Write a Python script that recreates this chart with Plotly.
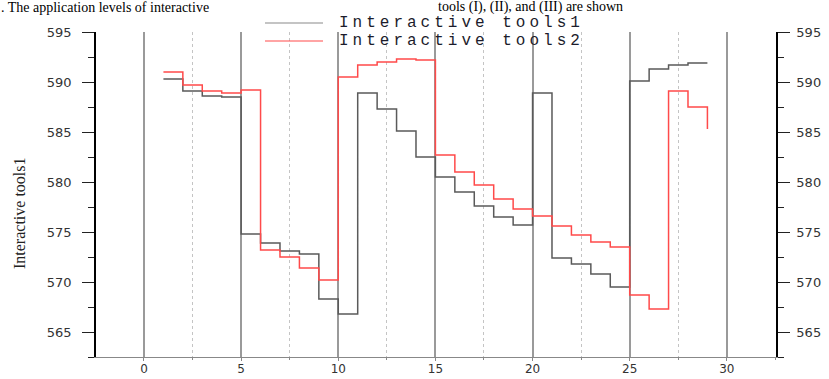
import plotly.graph_objects as go

# ---- data ----
steps_x = list(range(1, 30))
tools1 = [590.3, 589.1, 588.6, 588.5, 574.8, 573.9, 573.1, 572.8, 568.3, 566.8,
          588.9, 587.3, 585.1, 582.5, 580.5, 579.0, 577.6, 576.5, 575.7, 588.9,
          572.4, 571.8, 570.8, 569.5, 590.1, 591.3, 591.7, 591.9, 591.9]
tools2 = [591.0, 589.7, 589.1, 588.9, 589.2, 573.2, 572.5, 571.4, 570.2, 590.5,
          591.7, 592.0, 592.3, 592.2, 582.7, 581.0, 579.7, 578.3, 577.3, 576.6,
          575.6, 574.7, 574.0, 573.5, 568.7, 567.3, 589.1, 587.5, 585.3]
series_names = ["Interactive tools1", "Interactive tools2"]
x_ticks = [0, 5, 10, 15, 20, 25, 30]
y_ticks = [565, 570, 575, 580, 585, 590, 595]

W, H = 829, 379
L, R, T, B = 96, 776, 32, 357


def px_x(p):
    return (p - L) / (R - L)


def px_y(p):
    return (B - p) / (B - T)


fig = go.Figure()
fig.add_trace(go.Scatter(x=steps_x, y=tools1, mode="lines", line_shape="hv",
                         line=dict(color="#5a5a5a", width=1.5), name=series_names[0],
                         showlegend=False))
fig.add_trace(go.Scatter(x=steps_x, y=tools2, mode="lines", line_shape="hv",
                         line=dict(color="#ff4a4a", width=1.5), name=series_names[1],
                         showlegend=False))

tickfont = dict(family="DejaVu Sans", size=13, color="#333333")

fig.update_layout(
    width=W, height=H,
    margin=dict(l=L, r=W - R, t=T, b=H - B, pad=0, autoexpand=False),
    paper_bgcolor="white", plot_bgcolor="white",
    xaxis=dict(range=[-2.47, 32.53], tickvals=x_ticks, showgrid=True,
               gridcolor="#9a9a9a", gridwidth=1.5, zeroline=False, automargin=False,
               showline=True, linecolor="#888888", linewidth=1.2,
               ticks="outside", ticklen=3, tickcolor="#888888",
               tickfont=dict(family="DejaVu Sans", size=12, color="#333333"),
               ticklabelstandoff=-3,
               minor=dict(tick0=0, dtick=2.5, showgrid=True, gridcolor="#c4c4c4",
                          griddash="dot", gridwidth=1, ticks="outside", ticklen=2,
                          tickcolor="#888888")),
    yaxis=dict(range=[562.5, 595], tickvals=y_ticks, showgrid=False, zeroline=False,
               automargin=False,
               showline=True, linecolor="black", linewidth=1.5,
               ticks="outside", ticklen=12, tickwidth=1, tickcolor="#222222",
               tickfont=tickfont, ticklabelstandoff=8,
               minor=dict(tick0=562.5, dtick=2.5, ticks="outside", ticklen=6,
                          tickcolor="#222222")),
    yaxis2=dict(range=[562.5, 595], tickvals=y_ticks, overlaying="y", side="right",
                showgrid=False, zeroline=False, automargin=False,
                showline=True, linecolor="black", linewidth=1.5,
                ticks="outside", ticklen=12, tickwidth=1, tickcolor="#222222",
                tickfont=tickfont, ticklabelstandoff=4,
                minor=dict(tick0=562.5, dtick=2.5, ticks="outside", ticklen=6,
                           tickcolor="#222222")),
)
# invisible trace so the right axis is rendered
fig.add_trace(go.Scatter(x=[steps_x[0]], y=[tools1[0]], yaxis="y2", mode="lines",
                         line=dict(width=0), hoverinfo="skip", showlegend=False))

# manual legend (transparent, as in reference)
leg_colors = ["#8a8a8a", "#ff4a4a"]
leg_y = [23, 41]
for name, col, yy in zip(series_names, leg_colors, leg_y):
    fig.add_shape(type="line", xref="paper", yref="paper",
                  x0=px_x(265), x1=px_x(323), y0=px_y(yy), y1=px_y(yy),
                  line=dict(color=col, width=1.2))
    fig.add_annotation(xref="paper", yref="paper", x=px_x(338), y=px_y(yy),
                       xanchor="left", yanchor="middle", showarrow=False, borderpad=0,
                       text='<span style="letter-spacing:4px">' + name + '</span>',
                       font=dict(family="Liberation Mono", size=16, color="#1c1c2c"))

# y axis title
fig.add_annotation(xref="paper", yref="paper", x=px_x(20), y=px_y(213),
                   xanchor="center", yanchor="middle", showarrow=False, textangle=-90,
                   text="Interactive tools1",
                   font=dict(family="Liberation Serif", size=16, color="#222222"))

# caption text at the very top
fig.add_annotation(xref="paper", yref="paper", x=px_x(0), y=px_y(7),
                   xanchor="left", yanchor="middle", showarrow=False, borderpad=0,
                   text=". The application levels of interactive",
                   font=dict(family="Liberation Serif", size=14, color="black"))
fig.add_annotation(xref="paper", yref="paper", x=px_x(437), y=px_y(7),
                   xanchor="left", yanchor="middle", showarrow=False, borderpad=0,
                   text="tools (I), (II), and (III) are shown",
                   font=dict(family="Liberation Serif", size=14, color="black"))

fig.write_html("out.html", config={"displayModeBar": False},
               post_script="document.body.style.margin='0px';")
